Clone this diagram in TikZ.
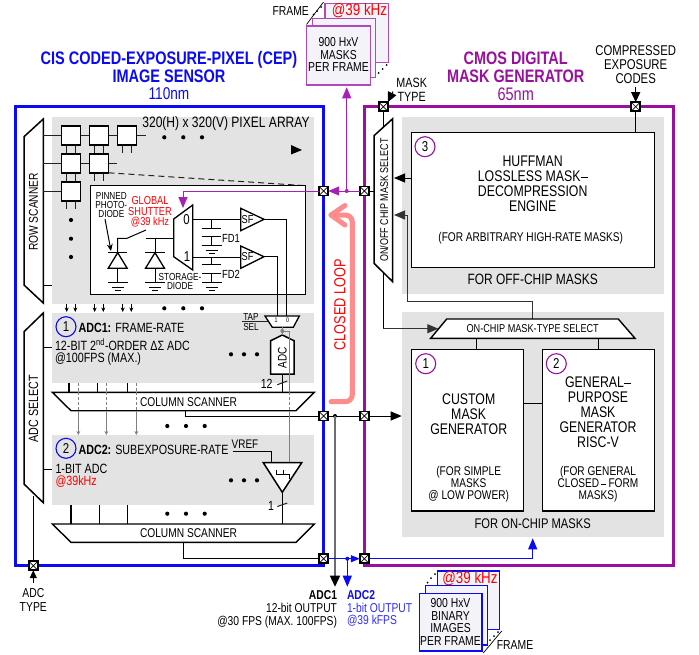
\documentclass[tikz,border=0pt]{standalone}
\usepackage{fontspec}
\setmainfont[FakeStretch=0.8]{Liberation Sans}
\usetikzlibrary{arrows.meta,calc}
\definecolor{mag}{HTML}{990F9E}
\definecolor{magar}{HTML}{A81FB8}
\definecolor{magfr}{HTML}{B04AB8}
\definecolor{bluem}{HTML}{0A0AF5}
\definecolor{grayb}{HTML}{E3E3E3}
\definecolor{pink}{HTML}{FF8C8C}
\definecolor{wire}{HTML}{222222}
\definecolor{grayw}{HTML}{808080}
\definecolor{frfill}{HTML}{F5F3FA}
\newcommand{\fz}[2]{\fontsize{\fpeval{1.1*#1}}{#2}\selectfont}
% \rnode{name}{x1}{y1}{x2}{y2}{style}{text}
\newcommand{\rnode}[7]{\node[#6,rectangle,inner sep=0pt,outer sep=0pt,minimum width={(#4)-(#2)},minimum height={(#5)-(#3)}] (#1) at ({((#2)+(#4))/2},{((#3)+(#5))/2}) {#7};}
\newcommand{\gnd}[2]{\draw[gl] ({#1-10},#2)--({#1+10},#2) ({#1-6},{#2+4.3})--({#1+6},{#2+4.3}) ({#1-3},{#2+7.5})--({#1+3},{#2+7.5});}
\newcommand{\tridots}[4]{\fill (#1,#4) circle (2.1) (#2,#4) circle (2.1) (#3,#4) circle (2.1);}
\tikzset{
 x=1pt,y=-1pt,
 gl/.style={line width=1pt,draw=black},
 wl/.style={line width=1pt,draw=wire},
 pl/.style={line width=1.5pt,draw=black,fill=white,line join=miter},
 grayzone/.style={fill=grayb},
 whitebox/.style={draw=black,line width=1.1pt,fill=white},
 bluebox/.style={draw=bluem,line width=3pt},
 magbox/.style={draw=mag,line width=3pt},
 xpad/.style={draw=black,line width=1.5pt,fill=white,inner sep=0pt,outer sep=0pt,minimum size=9pt,
   path picture={\draw[line width=.7pt] (path picture bounding box.north west)--(path picture bounding box.south east)
    (path picture bounding box.north east)--(path picture bounding box.south west);}},
 pixel/.style={draw=black,line width=1.5pt,fill=white,inner sep=0pt,outer sep=0pt,minimum size=19pt},
 txt/.style={inner sep=0pt,outer sep=0pt,align=center},
 tip/.style={-{Triangle[length=11pt,width=9pt]}},
 smalltip/.style={-{Stealth[length=4.5pt,width=4pt]}},
 fm/.style={draw=magfr,line width=1.1pt,fill=frfill},
 fb/.style={draw=bluem,line width=1.1pt,fill=frfill},
 circm/.style={circle,draw=mag,line width=1.1pt,inner sep=0pt,minimum size=20pt,font=\fz{13}{14}},
 circb/.style={circle,draw=bluem,line width=1.1pt,inner sep=0pt,minimum size=20pt,font=\fz{13}{14}},
}
\begin{document}
\begin{tikzpicture}
\useasboundingbox (0,0) rectangle (699,654);
\fill[white] (0,0) rectangle (699,654);
% gray zones
\rnode{zarr}{52}{117}{314}{304}{grayzone}{}
\rnode{zadc1}{52}{313}{314}{383}{grayzone}{}
\rnode{zadc2}{52}{435}{314}{505}{grayzone}{}
\rnode{zoff}{402.3}{116.7}{664}{294}{grayzone}{}
\rnode{zon}{402.3}{312.3}{664}{536.7}{grayzone}{}
% chip boxes
\rnode{cis}{15}{106}{323.7}{565.7}{bluebox}{}
\rnode{cmos}{364.3}{106.7}{673}{565.7}{magbox}{}
% titles
\node[txt,text=bluem,font=\bfseries\fz{16.5}{18}] (tcis) at (169,67) {CIS CODED-EXPOSURE-PIXEL (CEP)\\IMAGE SENSOR};
\node[txt,text=bluem,font=\fz{15.5}{16}] (tcis2) at (169,94) {110nm};
\node[txt,text=mag,font=\bfseries\fz{16.4}{18}] (tmag) at (515.7,67) {CMOS DIGITAL\\MASK GENERATOR};
\node[txt,text=mag,font=\fz{16.5}{16}] (tmag2) at (515.7,94) {65nm};
% pads
\node[xpad] (pa) at (323.7,191) {};
\node[xpad] (pb) at (364.3,191) {};
\node[xpad] (pc) at (323.7,416) {};
\node[xpad] (pd) at (364.3,416) {};
\node[xpad] (pe) at (323.7,558.7) {};
\node[xpad] (pf) at (364.3,558.7) {};
\node[xpad] (pg) at (383.3,106.7) {};
\node[xpad] (ph) at (635.7,106.7) {};
\node[xpad] (pi) at (33.3,565.7) {};
% row scanner and adc select
\draw[pl] (24,136.7)--(43.3,119)--(43.3,303)--(24,285)--cycle;
\node[txt,rotate=90,font=\fz{11.6}{13}] (lrow) at (33.5,212) {ROW SCANNER};
\draw[pl] (24,331.7)--(43.3,313)--(43.3,502.7)--(24,484)--cycle;
\node[txt,rotate=90,font=\fz{12.2}{13}] (lsel) at (33.5,408.5) {ADC SELECT};
\coordinate (selb) at (33.3,496);
\draw[gl] (selb)--(pi.north);
\draw[gl] (43.3,347.7)--(52,347.7) (43.3,469.3)--(52,469.3) (43.3,285)--(52,285);
% pixel array wires
\draw[wl] (43.3,135)--(146,135) (43.3,163.3)--(116.7,163.3) (43.3,191)--(70,191);
\foreach \xx in {66.7,75.3,94.7,103.3}{\draw[wl] (\xx,135)--(\xx,181.3);}
\foreach \xx in {122.7,131.3}{\draw[wl] (\xx,135)--(\xx,152.7);}
\foreach \xx in {66.7,75.3}{\draw[wl] (\xx,163)--(\xx,208.7);}
\node[pixel] (p11) at (71,135.3) {};
\node[pixel] (p12) at (99,135.3) {};
\node[pixel] (p13) at (127,135.3) {};
\node[pixel] (p21) at (71,163.3) {};
\node[pixel] (p22) at (99,163.3) {};
\node[pixel] (p31) at (71,191.3) {};
\tridots{164.3}{183.3}{202}{137.3}
\fill (71,220) circle (2.1) (71,238.7) circle (2.1) (71,257) circle (2.1);
\node[txt,font=\fz{13.7}{14}] (larr) at (226,124) {320(H) x 320(V) PIXEL ARRAY};
\fill (291,145)--(302,150)--(291,154.5)--cycle;
\tridots{164.3}{183.3}{202}{308.3}
\foreach \xx in {66.7,75.3,94.7,103.3,122.7,131.3}{\draw[gl,smalltip] (\xx,304)--(\xx,312);}
% detail box
\draw[wl,dash pattern=on 6pt off 4pt] (p22.south east)--(305.7,185.7);
\rnode{detail}{90.7}{185.7}{305.7}{294.3}{whitebox}{}
\draw[line width=1.3pt,draw=black,fill=white] (173.7,219)--(192.7,205)--(192.7,270)--(173.7,256.7)--cycle;
\coordinate (muxtop) at (183,208);
\coordinate (muxin) at (173.7,238);
\node[txt,font=\fz{13}{14}] (m0) at (186.5,219.5) {0};
\node[txt,font=\fz{13}{14}] (m1) at (187,257) {1};
\draw[magar,line width=1pt,tip] (pa.west)-|(muxtop);
% diode 1
\draw[gl] (117.7,252.7)--(117.7,238.3)--(127,238.3)--(146,230);
\draw[gl] (108,252.7)--(127.4,252.7);
\draw[gl,line width=1.3pt,line join=miter] (117.7,252.7)--(127.2,268.3)--(108.2,268.3)--cycle;
\draw[gl] (117.7,268.3)--(117.7,282.7);
\gnd{117.7}{282.7}
% diode 2
\draw[gl] (146,238)--(muxin);
\draw[gl] (155,238)--(155,252.7);
\draw[gl] (145.4,252.7)--(164.8,252.7);
\draw[gl,line width=1.3pt,line join=miter] (155,252.7)--(164.5,268.3)--(145.5,268.3)--cycle;
\draw[gl] (155,268.3)--(155,282.7);
\gnd{155}{282.7}
\node[txt,font=\fz{9.3}{9.4}] (lpin) at (111.3,205) {PINNED\\PHOTO-\\DIODE};
\draw[gl,-{Stealth[length=7pt,width=6pt]}] (105,219)--(111,251);
\node[txt,text=red,font=\fz{10.5}{10.6}] (lgs) at (150,212) {GLOBAL\\SHUTTER\\@39 kHz};
\node[txt,font=\fz{9.3}{9.4}] (lsd) at (180,281.3) {STORAGE-\\DIODE};
% FD caps
\draw[gl] (192.7,219.3)--(240.7,219.3) (192.7,257)--(240.7,257);
\draw[gl] (211.7,219.3)--(211.7,228.3) (211.7,236.7)--(211.7,245.7);
\draw[gl,line width=1.5pt] (201.7,228.3)--(221,228.3) (201.7,236.7)--(221,236.7);
\gnd{211.7}{245.7}
\draw[gl] (211.7,257)--(211.7,264.3) (211.7,273.3)--(211.7,282.7);
\draw[gl,line width=1.5pt] (201.7,264.3)--(221,264.3) (201.7,273.3)--(221,273.3);
\gnd{211.7}{282.7}
\node[txt,font=\fz{10.7}{12}] (lfd1) at (231,238.3) {FD1};
\node[txt,font=\fz{10.7}{12}] (lfd2) at (231,274) {FD2};
% SF
\draw[line width=1.3pt,draw=black,fill=white] (240.7,208.3)--(264,219.3)--(240.7,230.7)--cycle;
\draw[line width=1.3pt,draw=black,fill=white] (240.7,246)--(264,256.7)--(240.7,268.3)--cycle;
\node[txt,font=\fz{10.5}{11}] (lsf1) at (247.5,219.3) {SF};
\node[txt,font=\fz{10.5}{11}] (lsf2) at (247.5,256.8) {SF};
\coordinate (sfa) at (264,219.3);
\coordinate (sfb) at (264,256.7);
\coordinate (tapa) at (286.7,316);
\coordinate (tapb) at (277.7,316);
\draw[gl] (sfa)-|(tapa);
\draw[gl] (sfb)-|(tapb);
% tap mux
\draw[line width=1.3pt,draw=black,fill=white] (265,316)--(299.3,316)--(293.3,327.3)--(272.3,327.3)--cycle;
\node[txt,font=\fz{6}{7}] (t1) at (276,320.7) {1};
\node[txt,font=\fz{6}{7}] (t0) at (287.7,320.7) {0};
\node[txt,font=\fz{9.3}{10}] (ltap) at (251,316.7) {TAP};
\node[txt,font=\fz{9.3}{10}] (lsl) at (251,326.7) {SEL};
\draw[wl] (242,321.7)--(268,321.7);
% column scanner 1
\draw[line width=1.3pt,draw=black] (69,383)--(69,392.3) (97.3,383)--(97.3,392.3) (127.3,383)--(127.3,392.3);
\draw[grayw,line width=.8pt,dash pattern=on 3pt off 2pt] (78.3,383)--(78.3,392) (106.3,383)--(106.3,392) (136.3,383)--(136.3,392);
\draw[line width=1.4pt,draw=black,fill=white] (52.3,392.3)--(314.3,392.3)--(296,410.7)--(71,410.7)--cycle;
\node[txt,font=\fz{11.6}{13}] (lcs1) at (188.5,401.7) {COLUMN SCANNER};
\foreach \xx in {78.3,106.3,136.3}{
 \draw[grayw,line width=.8pt,dash pattern=on 3pt off 2pt] (\xx,392.3)--(\xx,410.7);
 \draw[grayw,line width=.8pt,-{Stealth[length=4pt,width=4pt]}] (\xx,410.7)--(\xx,435);}
\tridots{167.3}{186}{204.7}{426}
% ADC1 text
\node[circb] (c1) at (66,326.7) {1};
\node[txt,anchor=west,font=\fz{12.2}{13}] (ladc1) at (78.5,327.5) {\textbf{ADC1:} FRAME-RATE};
\node[txt,anchor=west,font=\fz{12.2}{13}] (ladc1b) at (55,344.5) {12-BIT 2\textsuperscript{nd}-ORDER ΔΣ ADC};
\node[txt,anchor=west,font=\fz{12.2}{13}] (ladc1c) at (55,359) {@100FPS (MAX.)};
\tridots{231}{244}{257}{354.3}
% ADC
\draw[line width=1.5pt,draw=black,fill=white] (270.7,340.7)--(282.3,335)--(294,340.7)--(294,374)--(270.7,374)--cycle;
\node[txt,rotate=90,font=\fz{11.3}{13}] (ladc) at (282.3,358) {ADC};
\coordinate (adctop) at (282.3,335);
\coordinate (adcbot) at (282.3,374);
\coordinate (csa) at (282.3,392.3);
\coordinate (taptap) at (282.3,331);
\draw[grayw,line width=1pt] (282.3,327.3)--(adctop);
\fill[grayw] (taptap) circle (2);
\draw[grayw,line width=.8pt] (taptap)--(289,331)--(289,392.3);
\draw[line width=1.3pt,draw=black] (adcbot)--(csa);
\draw[wl] (277.3,384.7)--(287.3,381);
\node[txt,font=\fz{12}{13}] (l12) at (266.7,383.5) {12};
\draw[grayw,line width=.8pt,dash pattern=on 3pt off 2pt] (289,392.3)--(289,410.7);
\draw[gl] (185.7,410.7)--(185.7,416)--(pc.west);
% ADC2 area
\node[circb] (c2) at (66,448.3) {2};
\node[txt,anchor=west,font=\fz{12.2}{13}] (ladc2) at (78.5,449.5) {\textbf{ADC2:} SUBEXPOSURE-RATE};
\node[txt,anchor=west,font=\fz{12.2}{13}] (ladc2b) at (55.5,468.5) {1-BIT ADC};
\node[txt,anchor=west,text=red,font=\fz{12.2}{13}] (ladc2c) at (55.5,481.7) {@39kHz};
\tridots{231}{244}{257}{480.3}
\node[txt,font=\fz{11.3}{12}] (lvref) at (245,444.3) {VREF};
\draw[gl] (232.7,451.7)--(271,451.7)--(271,462.7);
\draw[grayw,line width=.8pt] (289,410.7)--(289,462.7);
\draw[line width=1.5pt,draw=black,fill=white,line join=miter] (263.3,462.7)--(301.7,462.7)--(282.3,492.3)--cycle;
\draw[line width=.9pt] (276.5,470)--(276.5,474.5)--(289,474.5)--(289,478.5) (283,474.5)--(283,470) ;
\coordinate (cmpb) at (282.3,492.3);
\coordinate (csb) at (282.3,524);
\draw[line width=1.3pt,draw=black] (cmpb)--(csb);
\draw[wl] (277.3,506.5)--(287.3,503);
\node[txt,font=\fz{12}{13}] (l1) at (271,506) {1};
\draw[line width=1.1pt] (71,505)--(71,524) (99.3,505)--(99.3,524) (127.3,505)--(127.3,524);
\tridots{167.3}{186}{204.7}{513.7}
\draw[line width=1.4pt,draw=black,fill=white] (52.3,524)--(314.3,524)--(296,542.3)--(71,542.3)--cycle;
\node[txt,font=\fz{11.6}{13}] (lcs2) at (188.5,533.3) {COLUMN SCANNER};
\draw[gl] (183,542.3)--(183,558.7)--(pe.west);
% ADC type
\coordinate (adct) at (33.3,583);
\draw[gl,-{Triangle[length=8pt,width=7pt]}] (adct)--(pi.south);
\node[txt,font=\fz{11.8}{14}] (ladct) at (33.3,600) {ADC\\TYPE};
% mid connectors
\draw[magar,line width=1pt] (pb.west)--(346.7,191);
\draw[magar,line width=1pt,tip] (346.7,191)--(pa.east);
\fill[magar] (346.7,191) circle (2);
\coordinate (frm) at (346.7,87.3);
\draw[magar,line width=1pt,tip] (346.7,191)--(frm);
\draw[gl] (pc.east)--(pd.west);
\draw[gl,tip] (pd.east)--(401.7,416);
\fill[black] (335,416) circle (2);
\coordinate (oadc1) at (335,586.7);
\draw[draw=grayw!85!black,line width=1.5pt] (335,416)--(335,576);
\fill[black] (329.8,575.7)--(340.2,575.7)--(oadc1)--cycle;
\draw[bluem,line width=1pt] (pe.east)--(347.3,558.7);
\draw[bluem,line width=1pt,-{Triangle[length=9pt,width=7pt]}] (347.3,558.7)--(pf.west);
\fill[bluem] (347.3,558.7) circle (2);
\coordinate (oadc2) at (347.3,586.7);
\draw[bluem,line width=1pt,tip] (347.3,558.7)--(oadc2);
\coordinate (onchipb) at (532.7,538.3);
\draw[bluem,line width=1pt,tip] (pf.east)-|(onchipb);
\node[txt,anchor=east,font=\bfseries\fz{11.7}{12}] (oa1) at (337,595.5) {ADC1};
\node[txt,align=right,anchor=north east,font=\fz{11.7}{12.5}] (oa1b) at (337,603.5) {12-bit OUTPUT\\@30 FPS (MAX. 100FPS)};
\node[txt,anchor=west,text=bluem,font=\bfseries\fz{11.7}{12}] (oa2) at (347,595) {ADC2};
\node[txt,align=left,anchor=north west,text=bluem!85!white,font=\fz{11.7}{12.5}] (oa2b) at (347,603) {1-bit OUTPUT\\@39 kFPS};
% closed loop
\draw[pink,line width=5pt,line cap=round,line join=round,rounded corners=7pt] (331,401.7)--(352.3,401.7)--(352.3,215)--(331,215);
\draw[pink,line width=5pt,line cap=round,line join=round] (345,205.5)--(331,215)--(345,225);
\node[txt,rotate=90,text=red,font=\fz{14.5}{17}] (lcl) at (340,305) {CLOSED LOOP};
% on/off select
\draw[pl] (374,135.7)--(392.7,118.7)--(392.7,281.7)--(374,263.3)--cycle;
\node[txt,rotate=90,font=\fz{10.2}{12}] (lonoff) at (384,200) {ON/OFF CHIP MASK SELECT};
\draw[gl] (pg.south)--(383.3,127);
\draw[gl] (pb.east)--(374,191);
\coordinate (sela) at (394,178);
\coordinate (selc) at (394,215);
% huffman
\rnode{huff}{411.3}{132.3}{654.7}{267.3}{whitebox}{}
\node[circm] (c3) at (425,146.7) {3};
\node[txt,font=\fz{14}{15}] (lhf) at (532.7,184) {HUFFMAN\\LOSSLESS MASK\raisebox{.25em}{\rule{.45em}{.6pt}}\\DECOMPRESSION\\ENGINE};
\node[txt,font=\fz{11.5}{12}] (lhf2) at (530.7,238) {(FOR ARBITRARY HIGH-RATE MASKS)};
\node[txt,font=\fz{13.6}{14}] (loff) at (532.7,279.3) {FOR OFF-CHIP MASKS};
\draw[gl,tip] (huff.west|-sela)--(sela);
\draw[gl] (ph.south)--(huff.north-|ph.south);
% on-chip
\coordinate (ontop) at (532.7,319);
\coordinate (onleft) at (438.3,328.7);
\draw[gl] (383.3,272.5)--(383.3,328.7);
\draw[line width=1pt,draw=black!80,tip] (383.3,328.7)--(onleft);
\draw[line width=1pt,draw=black!80,tip] (ontop)--(532.7,301.7)--(407.7,301.7)--(407.7,215)--(selc);
\draw[line width=1.4pt,draw=black,fill=white] (430.7,338.3)--(446.7,319)--(618.3,319)--(635,338.3)--cycle;
\node[txt,font=\fz{10.4}{12}] (lon) at (532.7,329) {ON-CHIP MASK-TYPE SELECT};
\rnode{cust}{411.3}{349.7}{523.7}{511}{whitebox}{}
\rnode{gen}{542.3}{349.7}{654.7}{511}{whitebox}{}
\draw[gl] (476.7,338.3)--(cust.north-|476.7,0);
\draw[gl] (598.3,338.3)--(gen.north-|598.3,0);
\draw[gl] (cust.east|-0,403.3)--(gen.west|-0,403.3);
\node[circm] (c4) at (425.7,363.7) {1};
\node[circm] (c5) at (556.3,363.7) {2};
\node[txt,font=\fz{14}{15}] (lcust) at (468.7,414) {CUSTOM\\MASK\\GENERATOR};
\node[txt,font=\fz{11.5}{11.8}] (lcust2) at (468.7,484) {(FOR SIMPLE\\MASKS\\@ LOW POWER)};
\node[txt,font=\fz{14}{15}] (lgen) at (598,412) {GENERAL\raisebox{.25em}{\rule{.45em}{.6pt}}\\PURPOSE\\MASK\\GENERATOR\\RISC-V};
\node[txt,font=\fz{11.5}{11.8}] (lgen2) at (598,484) {(FOR GENERAL\\CLOSED\,\raisebox{.25em}{\rule{.4em}{.6pt}}\,FORM\\MASKS)};
\node[txt,font=\fz{12.7}{14}] (lonm) at (532.7,524) {FOR ON-CHIP MASKS};
% top labels
\node[txt,font=\fz{12.9}{14}] (lcomp) at (635.7,65) {COMPRESSED\\EXPOSURE\\CODES};
\coordinate (compa) at (635.7,87);
\draw[gl,-{Triangle[length=10pt,width=9pt]}] (compa)--(ph.north);
\node[txt,font=\fz{12.2}{14}] (lmask) at (411.7,90.3) {MASK\\TYPE};
\coordinate (maska) at (393,91.5);
\draw[gl,-{Triangle[length=10pt,width=9pt]}] (maska)--(pg.north east);
% mask frames
\rnode{f3}{325}{3.3}{388.3}{62.3}{fm}{}
\node[txt,text=red,font=\fz{15.2}{16}] (f3t) at (359.5,10.7) {@39 kHz};
\rnode{f2}{312.7}{18.3}{375.7}{77.3}{fm}{}
\rnode{f1}{306.7}{26}{370.7}{85}{fm}{}
\node[txt,font=\fz{11.8}{12.6}] (f1t) at (338.5,54.5) {900 HxV\\MASKS\\PER FRAME};
\node[txt,font=\fz{11.8}{12}] (lfr1) at (290.7,10.7) {FRAME};
\draw[line width=.7pt] (306.5,24.5)--(323.5,2);
\fill (313.5,14.5) circle (1) (317,11) circle (1) (321,7) circle (1);
\fill (378.5,73) circle (1) (382.5,69) circle (1) (386.5,65) circle (1);
% binary frames
\rnode{g3}{437.3}{571}{499.3}{629.3}{fb}{}
\node[txt,text=red,font=\fz{15.2}{16}] (g3t) at (470,578.7) {@39 kHz};
\rnode{g2}{425.7}{585.7}{487.7}{645}{fb}{}
\rnode{g1}{419.3}{593.3}{482}{651}{fb}{}
\node[txt,font=\fz{11.8}{12.8}] (g1t) at (450.5,622) {900 HxV\\BINARY\\IMAGES\\PER FRAME};
\node[txt,font=\fz{11.8}{12}] (lfr2) at (515,645.3) {FRAME};
\draw[line width=.7pt] (483.3,653)--(501.7,631);
\fill (427.5,582.5) circle (1) (431,578) circle (1) (435,574) circle (1);
\fill (490,640) circle (1) (494,636) circle (1) (498,632) circle (1);
\end{tikzpicture}
\end{document}
